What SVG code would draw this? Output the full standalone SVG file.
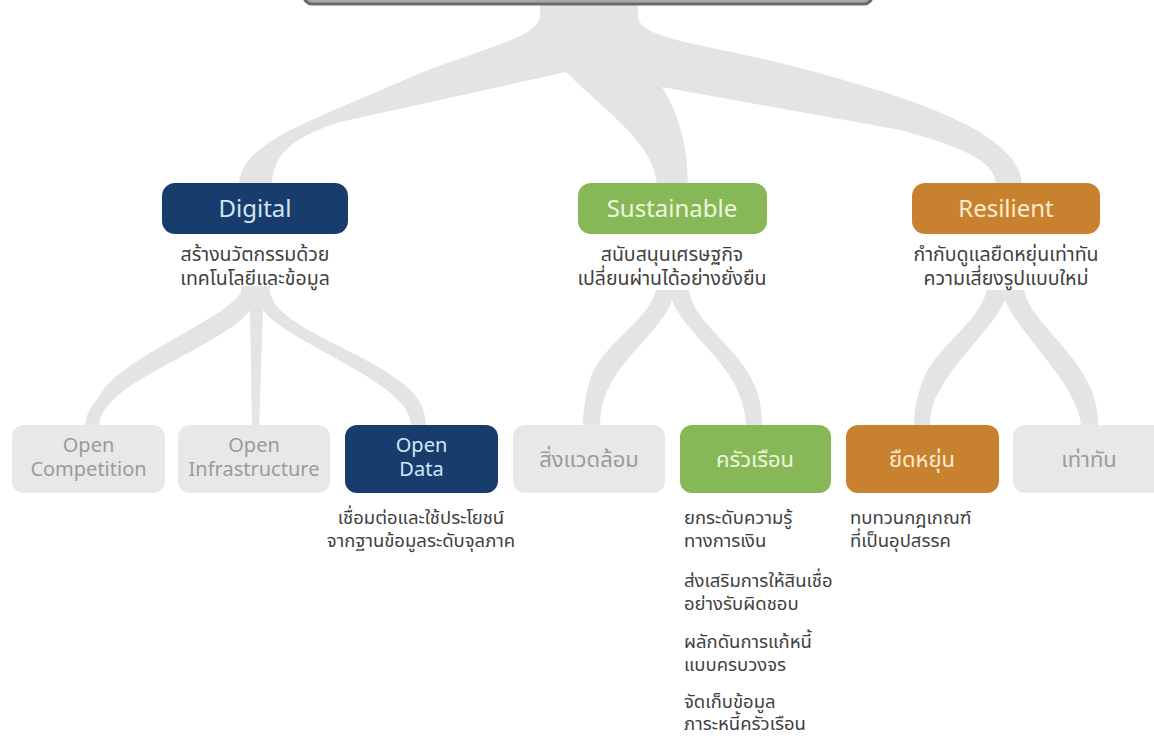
<svg xmlns="http://www.w3.org/2000/svg" width="1154" height="738" viewBox="0 0 1154 738">
<style>
.tree{fill:#e4e4e4;stroke:none}
.navy{fill:#183d6d}
.green{fill:#86b858}
.orange{fill:#c8822f}
.grey{fill:#e8e8e8}
.lbl{font-family:"Noto Sans","Noto Sans Thai",sans-serif;font-size:24px;text-anchor:middle}
.lbl2{font-family:"Noto Sans","Noto Sans Thai",sans-serif;font-size:20px;text-anchor:middle}
.tlbl{font-family:"Noto Sans Thai","Noto Sans",sans-serif;font-size:22px;text-anchor:middle}
.desc{font-family:"Noto Sans Thai","Noto Sans",sans-serif;font-size:18.5px;fill:#3f3f3f}
.up{font-size:19.5px}
.mid{text-anchor:middle}
.tn{fill:#d3e6f7}
.tg{fill:#eef7dc}
.to{fill:#fcebd0}
.tx{fill:#9b9b9b}
</style>
<rect width="1154" height="738" fill="#ffffff"/>
<g id="connectors">
<path class="tree" d="M540,0 L540,15 C540,40 470,50 400,82 C300,125 239,145 239,186 L272,186 C272,150 300,135 340,122 L566,72 C610,115 655,145 657,186 L688,186 C688,150 680,115 662,87 L900,130 C975,150 996,165 996,186 L1022,186 C1022,130 900,95 800,68 C700,42 638,40 638,15 L638,0 Z"/>
<path class="tree" d="M241,286 L241,292 C225,320 120,358 100,395 C88,410 85,418 85,428 L99,428 C99,418 104,408 115,398 C145,370 235,335 250,310 L252,428 L259,428 L263,310 C280,335 370,370 398,400 C408,410 411,418 411,428 L426,428 C426,405 415,392 398,380 C360,350 275,325 270,292 L270,286 Z"/>
<path class="tree" d="M656,290 C650,320 600,345 590,380 C584,400 583,415 583,428 L600,428 C600,412 603,398 610,385 C625,355 665,325 672,300 C680,325 720,355 735,385 C742,400 746,412 746,428 L762,428 C762,410 760,395 752,380 C735,345 692,320 689,290 Z"/>
<path class="tree" d="M987,290 C980,320 940,345 925,375 C917,395 914,410 914,428 L930,428 C930,412 933,400 940,390 C955,360 995,325 1005,300 C1015,325 1050,360 1068,390 C1076,405 1081,415 1081,428 L1098,428 C1098,410 1095,395 1088,383 C1070,345 1030,320 1024,290 Z"/>
</g>
<g id="top-box">
<rect x="304" y="-30" width="568" height="34" rx="8" fill="#a8a8a8" stroke="#6a6a6a" stroke-width="3"/>
</g>
<g id="digital">
<rect class="navy" x="162" y="183" width="186" height="51" rx="13"/>
<text class="lbl tn" x="255" y="217">Digital</text>
<text class="desc up mid" x="255" y="261">สร้างนวัตกรรมด้วย</text>
<text class="desc up mid" x="255" y="285">เทคโนโลยีและข้อมูล</text>
</g>
<g id="sustainable">
<rect class="green" x="578" y="183" width="189" height="51" rx="13"/>
<text class="lbl tg" x="672" y="217">Sustainable</text>
<text class="desc up mid" x="672" y="261">สนับสนุนเศรษฐกิจ</text>
<text class="desc up mid" x="672" y="285">เปลี่ยนผ่านได้อย่างยั่งยืน</text>
</g>
<g id="resilient">
<rect class="orange" x="912" y="183" width="188" height="51" rx="13"/>
<text class="lbl to" x="1006" y="217">Resilient</text>
<text class="desc up mid" x="1006" y="261">กำกับดูแลยืดหยุ่นเท่าทัน</text>
<text class="desc up mid" x="1006" y="285">ความเสี่ยงรูปแบบใหม่</text>
</g>
<g id="open-competition">
<rect class="grey" x="12" y="425" width="153" height="68" rx="12"/>
<text class="lbl2 tx" x="88.5" y="452">Open</text>
<text class="lbl2 tx" x="88.5" y="476">Competition</text>
</g>
<g id="open-infrastructure">
<rect class="grey" x="178" y="425" width="152" height="68" rx="12"/>
<text class="lbl2 tx" x="254" y="452">Open</text>
<text class="lbl2 tx" x="254" y="476">Infrastructure</text>
</g>
<g id="open-data">
<rect class="navy" x="345" y="425" width="153" height="68" rx="12"/>
<text class="lbl2 tn" x="421.5" y="452">Open</text>
<text class="lbl2 tn" x="421.5" y="476">Data</text>
<text class="desc mid" x="421" y="524">เชื่อมต่อและใช้ประโยชน์</text>
<text class="desc mid" x="421" y="547">จากฐานข้อมูลระดับจุลภาค</text>
</g>
<g id="environment">
<rect class="grey" x="513" y="425" width="152" height="68" rx="12"/>
<text class="tlbl tx" x="589" y="467">สิ่งแวดล้อม</text>
</g>
<g id="household">
<rect class="green" x="680" y="425" width="151" height="68" rx="12"/>
<text class="tlbl tg" x="755" y="467">ครัวเรือน</text>
<text class="desc" x="684" y="524">ยกระดับความรู้</text>
<text class="desc" x="684" y="547">ทางการเงิน</text>
<text class="desc" x="684" y="587">ส่งเสริมการให้สินเชื่อ</text>
<text class="desc" x="684" y="610">อย่างรับผิดชอบ</text>
<text class="desc" x="684" y="648">ผลักดันการแก้หนี้</text>
<text class="desc" x="684" y="671">แบบครบวงจร</text>
<text class="desc" x="684" y="708">จัดเก็บข้อมูล</text>
<text class="desc" x="684" y="730">ภาระหนี้ครัวเรือน</text>
</g>
<g id="flexible">
<rect class="orange" x="846" y="425" width="153" height="68" rx="12"/>
<text class="tlbl to" x="922" y="467">ยืดหยุ่น</text>
<text class="desc" x="850" y="524">ทบทวนกฎเกณฑ์</text>
<text class="desc" x="850" y="547">ที่เป็นอุปสรรค</text>
</g>
<g id="keep-pace">
<rect class="grey" x="1013" y="425" width="153" height="68" rx="12"/>
<text class="tlbl tx" x="1089" y="467">เท่าทัน</text>
</g>
</svg>
